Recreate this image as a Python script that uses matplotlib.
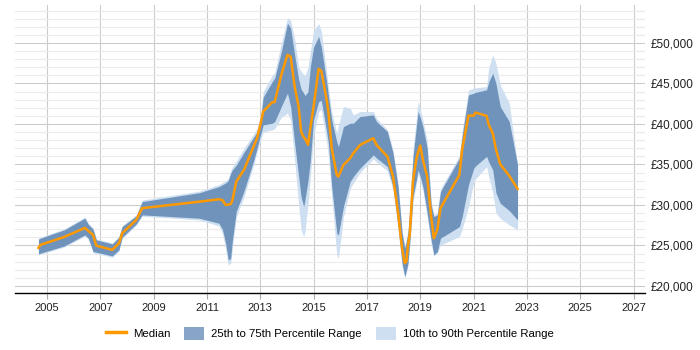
import matplotlib
matplotlib.use("Agg")
import matplotlib.pyplot as plt
from matplotlib.ticker import MultipleLocator, FuncFormatter
from matplotlib.patches import Patch
from matplotlib.lines import Line2D

plt.rcParams['font.family'] = ['Liberation Sans', 'DejaVu Sans']

years = [2004.68, 2004.75, 2005.65, 2006.42, 2006.55, 2006.73, 2006.85, 2007.45,
         2007.70, 2007.82, 2008.35, 2008.57, 2010.71, 2011.45, 2011.58, 2011.70,
         2011.80, 2011.89, 2011.95, 2012.10, 2012.39, 2012.76, 2012.88, 2013.01,
         2013.11, 2013.45, 2013.54, 2013.79, 2014.02, 2014.14, 2014.29, 2014.44,
         2014.53, 2014.63, 2014.68, 2014.79, 2014.88, 2015.00, 2015.19, 2015.29,
         2015.50, 2015.56, 2015.68, 2015.87, 2015.93, 2016.12, 2016.37, 2016.49,
         2016.74, 2017.24, 2017.36, 2017.77, 2017.98, 2018.17, 2018.32, 2018.42,
         2018.48, 2018.54, 2018.61, 2018.73, 2018.85, 2018.92, 2019.00, 2019.10,
         2019.26, 2019.41, 2019.51, 2019.64, 2019.76, 2020.47, 2020.57, 2020.81,
         2021.01, 2021.07, 2021.49, 2021.57, 2021.72, 2021.84, 2022.00, 2022.34,
         2022.65]

p10 = [23800, 23900, 24800, 26150, 25750, 24100, 24000, 23550,
       24300, 25850, 27500, 28600, 28150, 27400, 26500, 24500,
       22590, 22800, 24500, 28500, 31000, 35000, 36500, 38000,
       39000, 39270, 39400, 40800, 41330, 40500, 35500, 30000,
       27000, 26090, 26800, 30000, 33500, 38500, 41500, 41800,
       37500, 36000, 31000, 23800, 23420, 28500, 32000, 32700,
       34000, 35700, 35300, 34200, 31800, 26900, 22400, 21000,
       21600, 22500, 25000, 30500, 32500, 33800, 33000, 31800,
       28500, 25200, 23700, 24000, 25060, 26090, 27000, 29800,
       32880, 33200, 34730, 33500, 31500, 29000, 28360, 27530,
       26920]

p25 = [23950, 24040, 24940, 26300, 25900, 24240, 24160, 23700,
       24450, 26010, 27660, 28770, 28360, 27740, 27000, 25300,
       23210, 23420, 25500, 29200, 31700, 35560, 37000, 38650,
       39880, 40090, 40290, 42150, 43800, 42150, 37620, 33500,
       31000, 29800, 30700, 33000, 35560, 40500, 42760, 42900,
       38860, 37500, 32260, 26500, 26300, 29800, 32880, 33500,
       34530, 36180, 35800, 34730, 32260, 27320, 22800, 21150,
       21900, 22800, 25500, 31030, 33000, 34330, 33500, 32260,
       29000, 25680, 23830, 24240, 25890, 27320, 28500, 32500,
       34530, 34800, 36000, 35300, 34330, 31500, 30210, 29300,
       28150]

median = [24700, 25060, 26050, 27160, 26800, 26300, 24970, 24450,
          25270, 26500, 28150, 29600, 30400, 30700, 30600, 30000,
          30050, 30100, 30500, 32880, 34330, 37300, 38240, 40000,
          41530, 42690, 42690, 46060, 48530, 48320, 44610, 42150,
          39060, 38360, 38200, 37410, 39500, 42150, 46800, 46550,
          42800, 41360, 37000, 33700, 33500, 34940, 35760, 36380,
          37400, 38240, 37410, 35970, 33500, 29000, 24600, 22800,
          23000, 25000, 26500, 33000, 35560, 36500, 37330, 35560,
          33500, 28560, 25890, 26920, 29600, 33710, 36800, 41030,
          41030, 41400, 41000, 39880, 38860, 36880, 35030, 33600,
          31980]

p75 = [25770, 25890, 26920, 28360, 27600, 27000, 25680, 25190,
       26010, 27320, 28640, 30410, 31500, 32260, 32500, 32700,
       33000, 33900, 34300, 34900, 36500, 38400, 39000, 40500,
       43300, 45230, 45650, 48900, 52440, 51830, 48500, 45500,
       44300, 43800, 43500, 44000, 47100, 49500, 50800, 49500,
       45000, 43380, 40500, 37820, 37200, 39670, 40090, 40090,
       40910, 41120, 40290, 39060, 36390, 32260, 26500, 24660,
       25500, 26500, 29500, 35970, 39500, 41530, 40800, 39670,
       37000, 30000, 28560, 28770, 31650, 35770, 38500, 43590,
       43800, 43900, 44210, 45200, 46270, 45000, 42150, 40300,
       34940]

p90 = [25900, 26000, 27050, 28500, 27750, 27150, 25800, 25300,
       26150, 27450, 28800, 30600, 31700, 32500, 32750, 32950,
       33300, 34200, 34700, 35400, 37000, 38800, 39500, 41000,
       44000, 46000, 46300, 50000, 53100, 52800, 50500, 47000,
       46500, 46100, 46000, 47000, 49000, 51500, 52400, 51500,
       46000, 44500, 41500, 38860, 39800, 42150, 41950, 41120,
       41530, 41530, 40700, 39270, 36800, 32600, 26900, 25000,
       25900, 27000, 30000, 37000, 40500, 42760, 41800, 40500,
       38000, 30500, 28800, 29000, 32000, 36100, 39000, 44210,
       44400, 44450, 44620, 47000, 48530, 47500, 44820, 42570,
       35000]

year_ticks = list(range(2005, 2028, 2))

dark = '#6f93bb'
light = '#cddff0'
orange = '#ff9900'

fig = plt.figure(figsize=(7, 3.5), dpi=100)
ax = fig.add_axes([0.0214, 0.163, 0.9, 0.823])

ax.fill_between(years, p10, p90, color=light, linewidth=0, zorder=2)
ax.fill_between(years, p25, p75, color=dark, linewidth=0, zorder=3)
ax.plot(years, median, color=orange, linewidth=1.8, zorder=4)

ax.set_xlim(2003.80, 2027.43)
ax.set_ylim(19130, 54700)
ax.set_xticks(year_ticks)
ax.yaxis.set_major_locator(MultipleLocator(5000))
ax.yaxis.set_minor_locator(MultipleLocator(1000))
ax.yaxis.set_major_formatter(FuncFormatter(lambda v, p: '£{:,.0f}'.format(v)))
ax.yaxis.tick_right()

ax.grid(axis='x', color='#cccccc', linewidth=0.8, zorder=0)
ax.grid(axis='y', which='major', color='#cccccc', linewidth=0.8, zorder=0)
ax.grid(axis='y', which='minor', color='#ebebeb', linewidth=0.8, zorder=0)
ax.set_axisbelow(True)

for s in ['top', 'left', 'right']:
    ax.spines[s].set_visible(False)
ax.spines['bottom'].set_color('black')
ax.spines['bottom'].set_linewidth(1)

ax.tick_params(axis='x', length=4, color='#aaaaaa', labelsize=8, pad=3,
               labelcolor='#222222')
ax.tick_params(axis='y', which='major', length=0, labelsize=8.5, pad=4,
               labelcolor='#222222')
ax.tick_params(axis='y', which='minor', length=0)

handles = [Line2D([0], [0], color=orange, linewidth=2.5),
           Patch(facecolor='#88a4c6', edgecolor='none'),
           Patch(facecolor=light, edgecolor='none')]
labels = ['Median', '25th to 75th Percentile Range', '10th to 90th Percentile Range']
fig.legend(handles, labels, loc='center', bbox_to_anchor=(0.471, 0.047), ncol=3,
           frameon=False, fontsize=8.2, handlelength=1.8, handleheight=1.3,
           columnspacing=1.2, handletextpad=0.6)

fig.savefig('out.png', dpi=100)
